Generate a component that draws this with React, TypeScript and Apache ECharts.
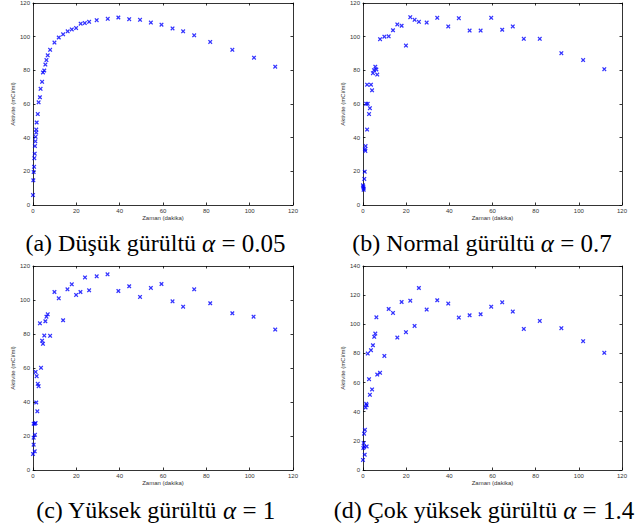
import React, { useEffect, useRef } from "react";
import * as echarts from "echarts";

// ---- data ----
const timesA = [0, 0.15, 0.3, 0.5, 0.6, 0.8, 0.9, 1.1, 1.2, 1.5, 1.5, 1.7, 2.2, 2.6, 3.2, 3.5, 4.2, 4.6, 5.2, 5.7, 6.2, 6.8, 7.9, 9.9, 11.9, 13.9, 16, 17.9, 19.9, 22, 23.9, 25.9, 29.4, 34.5, 39.4, 44.4, 49.4, 54.4, 59.3, 64.4, 69.3, 74.4, 81.8, 92, 102, 111.8];
const valuesA = [5.9, 14.7, 19.6, 22.7, 27.8, 30.5, 35, 37.8, 40.5, 43, 44.8, 49, 54, 61, 64, 69, 73.2, 78.7, 79.9, 83.4, 86.1, 88.9, 92.2, 96.5, 99.5, 101.4, 103.2, 104.3, 105.1, 107.7, 108.1, 108.8, 109.8, 110.6, 111.4, 110.4, 110, 108.4, 107.1, 104.9, 103.2, 100.8, 96.9, 92.2, 87.5, 82.2];

const timesB = [0, 0.15, 0.3, 0.3, 0.6, 0.8, 0.9, 1.1, 1.2, 1.9, 1.5, 1.9, 2.2, 2.8, 3.2, 3.7, 4.2, 4.6, 5.1, 5.7, 6.2, 6.6, 7.9, 9.9, 11.9, 13.9, 15.9, 17.9, 19.9, 21.9, 23.9, 25.9, 29.5, 34.4, 39.5, 44.4, 49.4, 54.5, 59.4, 64.5, 69.4, 74.5, 81.9, 91.9, 102, 111.8];
const valuesB = [11.7, 11, 9.8, 9, 15.5, 19.8, 33.1, 32.1, 35, 44.8, 60.1, 71.5, 60.1, 54, 57.5, 71.5, 68.1, 78.3, 80.1, 82.2, 80.5, 77.5, 98.5, 100, 100.2, 103.8, 107.3, 106.5, 94.7, 111.6, 110, 108.8, 108.4, 111.2, 106.1, 111, 103.6, 103.6, 111.2, 104.1, 106.1, 98.7, 98.7, 90.2, 86.1, 80.7];

const timesC = [0, 0.3, 0.3, 0.3, 0.8, 0.8, 0.9, 1.2, 1.2, 1.5, 1.7, 2, 2.2, 2.6, 3.2, 3.7, 4.2, 4.6, 5.2, 5.7, 6.2, 6.8, 7.9, 9.9, 11.9, 13.9, 15.9, 17.9, 19.9, 21.9, 24, 25.9, 29.4, 34.4, 39.4, 44.4, 49.4, 54.4, 59.3, 64.4, 69.3, 74.4, 81.8, 92, 101.8, 111.8];
const valuesC = [9.4, 14.9, 19, 27.2, 27.2, 11, 20.7, 27.6, 57.7, 39.7, 55.2, 34.5, 50.7, 49.3, 86.3, 60.1, 76.1, 74.2, 79.1, 87.5, 90.2, 91.6, 78.9, 104.7, 101, 88.1, 106.3, 109.2, 103, 104.7, 113.3, 105.7, 113.9, 115.1, 105.3, 108.1, 101.8, 107.1, 109.4, 99.2, 96.1, 106.3, 98.1, 92.2, 90.2, 82.6];

const timesD = [0, 0.15, 0.3, 0.6, 0.5, 0.9, 0.8, 1.2, 1.5, 1.7, 1.7, 2.2, 2.8, 3.2, 3.7, 4.2, 4.6, 5.2, 5.7, 6.2, 6.6, 7.9, 9.9, 11.9, 13.9, 15.9, 17.9, 19.9, 21.9, 23.9, 25.9, 29.5, 34.4, 39.5, 44.4, 49.4, 54.5, 59.4, 64.5, 69.4, 74.5, 81.9, 91.9, 102, 111.8];
const valuesD = [6.9, 15.1, 18.5, 16, 24.9, 27.6, 10.5, 42.9, 45.4, 44.5, 16.2, 79.9, 62.3, 51.6, 82.2, 55.3, 85.6, 91.4, 93.6, 104.8, 65.5, 66.7, 78.3, 110.5, 107.8, 90.9, 115.3, 94.6, 116.2, 98.9, 124.9, 110.1, 116.5, 114.2, 104.6, 106.2, 106.9, 112.1, 115.1, 108.7, 96.8, 102.3, 97.3, 88.4, 80.4];

const xTicks = { min: 0, max: 120, interval: 20 };
const yMaxes = [120, 120, 120, 140];
const captions = [
  "(a) Düşük gürültü {i|α}{m| = 0.05}",
  "(b) Normal gürültü {i|α}{m| = 0.7}",
  "(c) Yüksek gürültü {i|α}{m| = 1}",
  "(d) Çok yüksek gürültü {i|α}{m| = 1.4}",
];
const xName = "Zaman (dakika)";
const yName = "Aktivite (mCi/ml)";

const panels = [
  { t: timesA, v: valuesA },
  { t: timesB, v: valuesB },
  { t: timesC, v: valuesC },
  { t: timesD, v: valuesD },
];

const X_SYMBOL =
  "path://M0,2 L2,0 L5,3 L8,0 L10,2 L7,5 L10,8 L8,10 L5,7 L2,10 L0,8 L3,5 Z";

export default function App() {
  const ref = useRef<HTMLDivElement>(null);
  useEffect(() => {
    if (!ref.current) return;
    const chart = echarts.init(ref.current, undefined, { renderer: "svg" });
    const grids = [
      { left: 33, top: 1, width: 260, height: 204 },
      { left: 363, top: 1, width: 259, height: 204 },
      { left: 33, top: 266, width: 260, height: 204 },
      { left: 363, top: 266, width: 259, height: 204 },
    ];
    const font = "Liberation Sans";
    const lineStyle = { color: "#000", width: 0.8 };
    const xAxes: any[] = [];
    const yAxes: any[] = [];
    grids.forEach((_, i) => {
      xAxes.push({
        gridIndex: i,
        type: "value",
        ...xTicks,
        position: "bottom",
        axisLine: { show: true, lineStyle },
        axisTick: { show: true, inside: true, length: 2.5, lineStyle },
        axisLabel: { fontSize: 6, color: "#333", margin: 3, fontFamily: font },
        splitLine: { show: false },
        name: xName,
        nameLocation: "middle",
        nameGap: 10,
        nameTextStyle: { fontSize: 6, color: "#333", fontFamily: font },
      });
      xAxes.push({
        gridIndex: i,
        type: "value",
        ...xTicks,
        position: "top",
        axisLine: { show: true, onZero: false, lineStyle },
        axisTick: { show: true, inside: true, length: 2.5, lineStyle },
        axisLabel: { show: false },
        splitLine: { show: false },
      });
      yAxes.push({
        gridIndex: i,
        type: "value",
        min: 0,
        max: yMaxes[i],
        interval: 20,
        position: "left",
        axisLine: { show: true, lineStyle },
        axisTick: { show: true, inside: true, length: 2.5, lineStyle },
        axisLabel: { fontSize: 6, color: "#333", margin: 3, fontFamily: font },
        splitLine: { show: false },
        name: yName,
        nameLocation: "middle",
        nameGap: 16,
        nameRotate: 90,
        nameTextStyle: { fontSize: 6, color: "#333", fontFamily: font },
      });
      yAxes.push({
        gridIndex: i,
        type: "value",
        min: 0,
        max: yMaxes[i],
        interval: 20,
        position: "right",
        axisLine: { show: true, onZero: false, lineStyle },
        axisTick: { show: true, inside: true, length: 2.5, lineStyle },
        axisLabel: { show: false },
        splitLine: { show: false },
      });
    });
    const series = panels.map((p, i) => ({
      type: "scatter",
      xAxisIndex: i * 2,
      yAxisIndex: i * 2,
      symbol: X_SYMBOL,
      symbolSize: 4.5,
      itemStyle: { color: "#0000ff" },
      data: p.t.map((t, k) => [t, p.v[k]]),
    }));
    const capPos = [
      { x: 155.5, y: 243 },
      { x: 482, y: 243 },
      { x: 155.5, y: 510 },
      { x: 484, y: 510 },
    ];
    const graphic = captions.map((c, i) => ({
      type: "text",
      x: capPos[i].x,
      y: capPos[i].y,
      style: {
        text: c,
        fontFamily: "Liberation Serif",
        fontSize: 24,
        fill: "#000",
        verticalAlign: "middle",
        align: "center",
        rich: {
          i: { fontStyle: "italic", fontFamily: "Liberation Serif", fontSize: 25 },
          m: { fontFamily: "Liberation Serif", fontSize: 25 },
        },
      },
    }));
    chart.setOption({
      animation: false,
      backgroundColor: "#fff",
      grid: grids,
      xAxis: xAxes,
      yAxis: yAxes,
      series,
      graphic,
    });
    return () => chart.dispose();
  }, []);
  return (
    <div
      ref={ref}
      style={{ position: "fixed", left: 0, top: 0, width: 640, height: 529 }}
    />
  );
}
